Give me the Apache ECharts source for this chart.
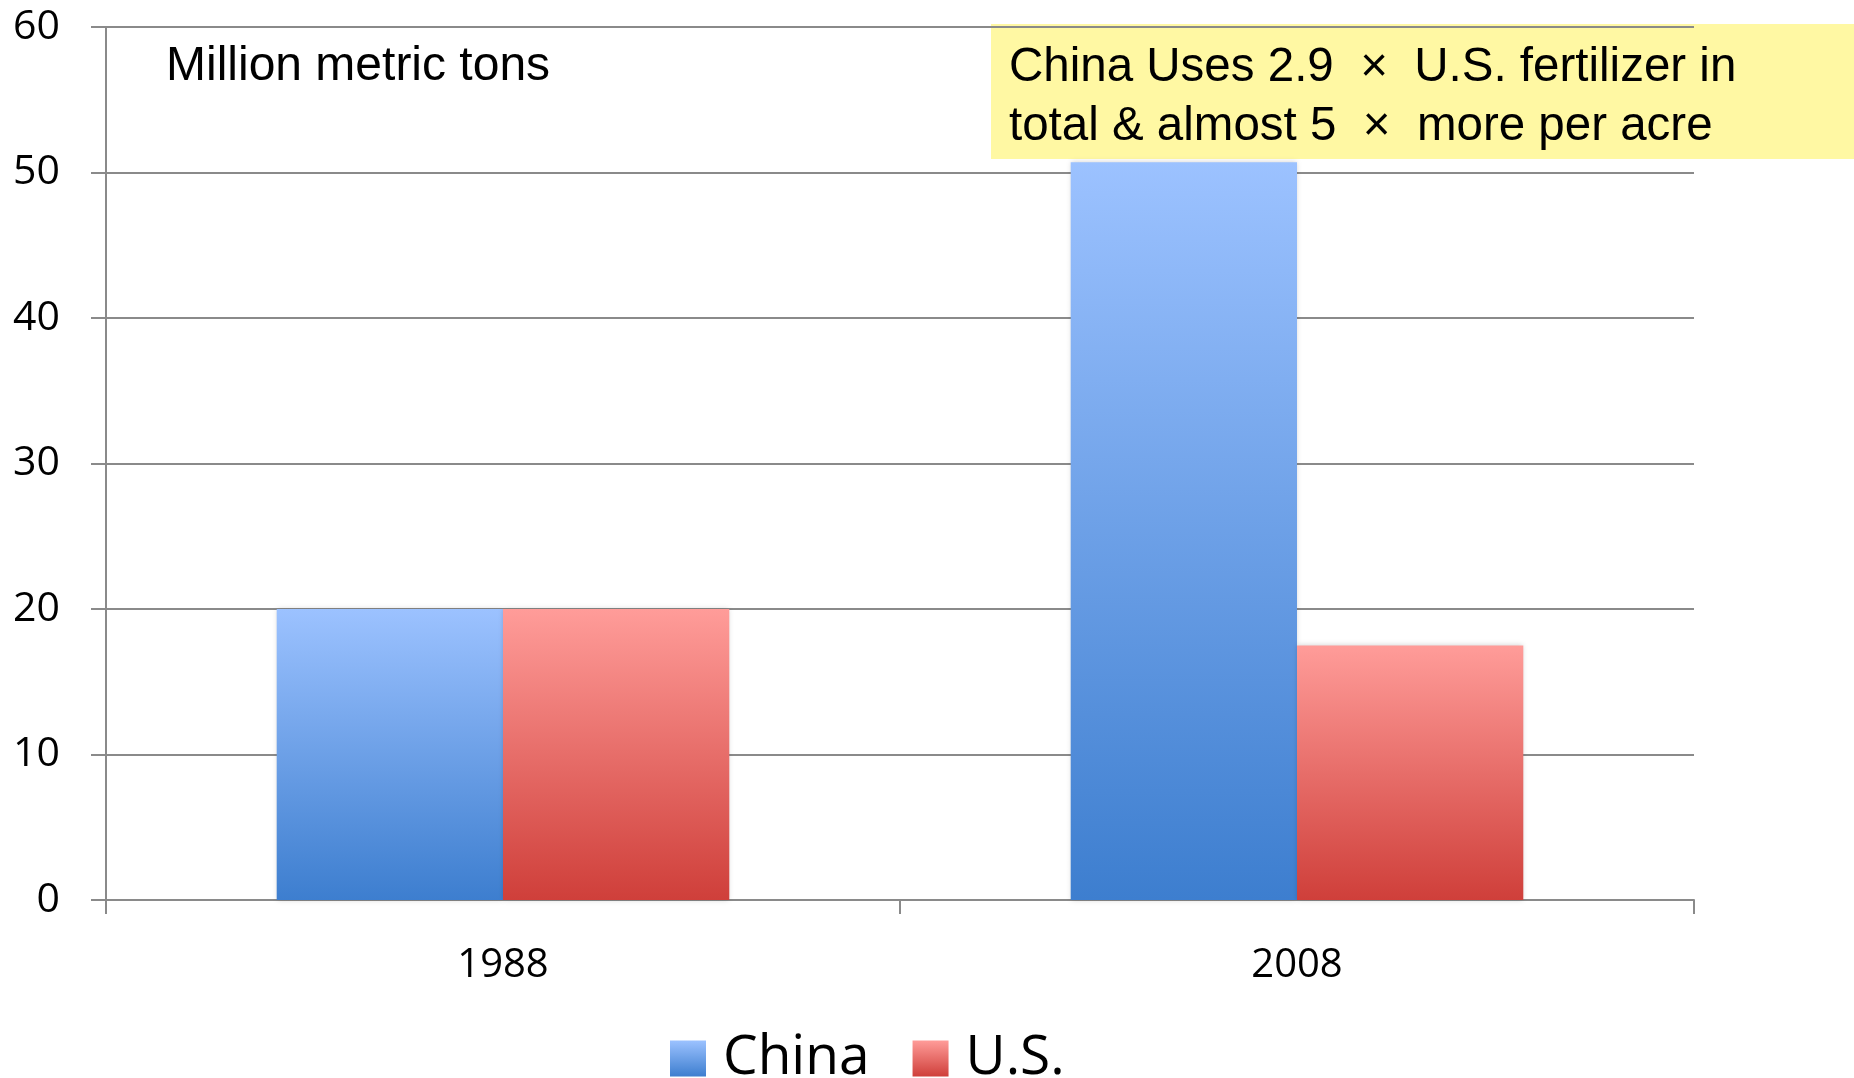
<!DOCTYPE html>
<html>
<head>
<meta charset="utf-8">
<script src="https://cdn.jsdelivr.net/npm/echarts@6/dist/echarts.min.js"></script>
<style>
  html, body { margin: 0; padding: 0; background: #ffffff; }
  #chart { width: 1854px; height: 1078px; }
</style>
</head>
<body>
<div id="chart"></div>
<script>
// Fertilizer use, million metric tons
const years = ['1988', '2008'];
const chinaValues = [20, 50.7];
const usValues = [20, 17.5];
const yTicks = [0, 10, 20, 30, 40, 50, 60];

const unitNote = 'Million metric tons';
const calloutLines = [
  'China Uses 2.9  \u00d7  U.S. fertilizer in',
  'total & almost 5  \u00d7  more per acre'
];

function vGrad(top, bottom) {
  return new echarts.graphic.LinearGradient(0, 0, 0, 1, [
    { offset: 0, color: top },
    { offset: 1, color: bottom }
  ]);
}

const chinaFill = vGrad('#9cc2ff', '#3d7ecf');
const usFill = vGrad('#ff9c99', '#cf3f3a');

const chart = echarts.init(document.getElementById('chart'), null, { renderer: 'canvas' });

const axisGray = '#8a8a8a';
const labelFont = '"Open Sans", "DejaVu Sans", sans-serif';
const textFont = '"Liberation Sans", Arial, sans-serif';

chart.setOption({
  animation: false,
  backgroundColor: '#ffffff',
  grid: { left: 106, right: 160, top: 27, bottom: 178, containLabel: false },
  xAxis: {
    type: 'category',
    data: years,
    boundaryGap: true,
    axisLine: { show: true, lineStyle: { color: axisGray, width: 2 } },
    axisTick: { show: true, length: 14, lineStyle: { color: axisGray, width: 2 } },
    axisLabel: { color: '#000', fontFamily: labelFont, fontSize: 40, margin: 46 },
    splitLine: { show: false }
  },
  yAxis: {
    type: 'value',
    min: yTicks[0],
    max: yTicks[yTicks.length - 1],
    interval: yTicks[1] - yTicks[0],
    axisLine: { show: true, lineStyle: { color: axisGray, width: 2 } },
    axisTick: { show: true, length: 15, lineStyle: { color: axisGray, width: 2 } },
    axisLabel: { color: '#000', fontFamily: labelFont, fontSize: 41, margin: 46 },
    splitLine: { show: true, lineStyle: { color: axisGray, width: 2 } }
  },
  legend: {
    data: ['China', 'U.S.'],
    left: 665,
    top: 1026,
    itemWidth: 36,
    itemHeight: 36,
    itemGap: 43,
    icon: 'rect',
    textStyle: {
      color: '#000',
      fontFamily: labelFont,
      fontSize: 55,
      lineHeight: 55,
      padding: [0, 0, 0, 12]
    }
  },
  series: [
    {
      name: 'China',
      type: 'bar',
      data: chinaValues,
      barGap: '0%',
      barCategoryGap: '43%',
      itemStyle: {
        color: chinaFill,
        shadowBlur: 5,
        shadowColor: 'rgba(0,0,0,0.18)'
      },
      z: 2
    },
    {
      name: 'U.S.',
      type: 'bar',
      data: usValues,
      barGap: '0%',
      barCategoryGap: '43%',
      itemStyle: {
        color: usFill,
        shadowBlur: 5,
        shadowColor: 'rgba(0,0,0,0.18)'
      },
      z: 2
    }
  ],
  graphic: [
    {
      type: 'text',
      left: 166,
      top: 43,
      z: 10,
      style: {
        text: unitNote,
        fill: '#000',
        font: '48px ' + textFont
      }
    },
    {
      type: 'group',
      left: 991,
      top: 24,
      z: 20,
      children: [
        {
          type: 'rect',
          shape: { x: 0, y: 0, width: 863, height: 135 },
          style: { fill: '#fff8a3' }
        },
        {
          type: 'text',
          x: 18,
          y: 14,
          style: {
            text: calloutLines.join('\n'),
            fill: '#000',
            font: '47.5px ' + textFont,
            lineHeight: 59
          }
        }
      ]
    }
  ]
});
</script>
</body>
</html>
